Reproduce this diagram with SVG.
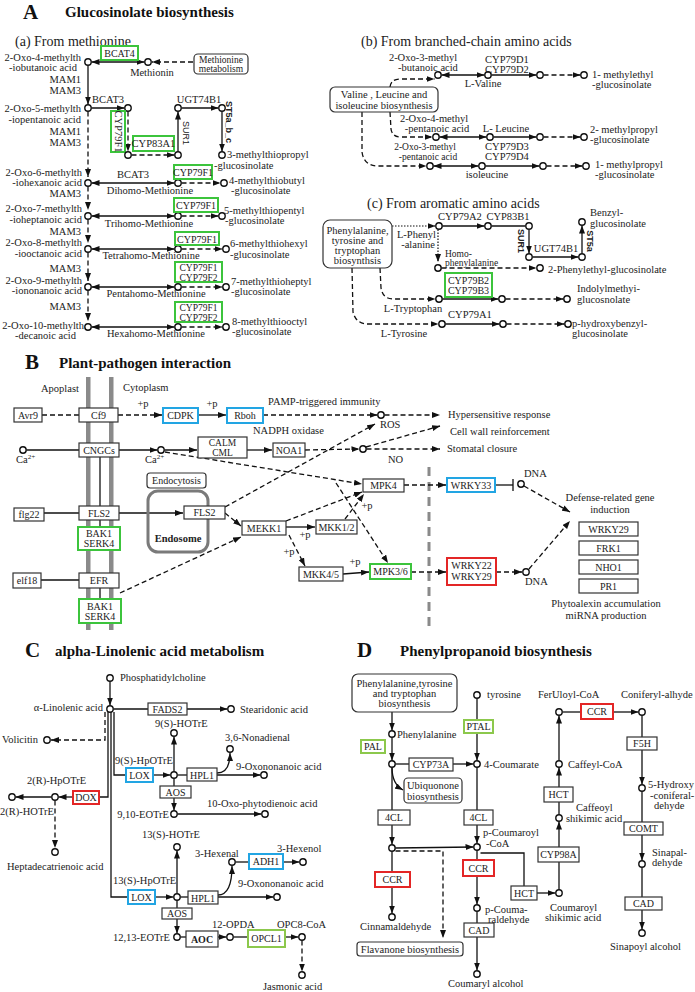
<svg xmlns="http://www.w3.org/2000/svg" width="695" height="992" viewBox="0 0 695 992">
<defs>
<style>
text{font-family:"Liberation Serif","Times New Roman",serif;font-size:10.5px;fill:#222}
.m{text-anchor:middle}.e{text-anchor:end}
.L{font-size:21px;font-weight:bold;fill:#111}
.h{font-size:15px;font-weight:bold;fill:#111}
.sub{font-size:14px}
.bt{font-size:10px}
.sm{font-size:9.5px}
.bx{fill:#fff;stroke:#333;stroke-width:1.2}
.rb{fill:#fff;stroke:#333;stroke-width:1.2}
.gr{fill:#fff;stroke:#3cc43c;stroke-width:2}
.bl{fill:#fff;stroke:#22a5e3;stroke-width:2}
.rd{fill:#fff;stroke:#e32626;stroke-width:2}
.yg{fill:#fff;stroke:#8cc84c;stroke-width:2}
.c{fill:#fff;stroke:#111;stroke-width:1.4}
.s{stroke:#111;stroke-width:1.3;fill:none}
.d{stroke:#111;stroke-width:1.3;fill:none;stroke-dasharray:5 3}
.o{stroke:#111;stroke-width:1.2;fill:none;stroke-dasharray:1.5 1.5}
.ar{marker-end:url(#a)}
.aa{marker-start:url(#a);marker-end:url(#a)}
.mem{fill:#8a8a8a}
.gd{stroke:#8a8a8a;stroke-width:3;stroke-dasharray:9 6;fill:none}
.sans{font-family:"Liberation Sans",Arial,sans-serif;font-weight:bold;font-size:9px}
.sansr{font-family:"Liberation Sans",Arial,sans-serif;font-size:9px}
</style>
<marker id="a" viewBox="0 0 8 6" refX="8" refY="3" markerWidth="8" markerHeight="6" markerUnits="userSpaceOnUse" orient="auto-start-reverse"><path d="M0,0L8,3L0,6z" fill="#111"/></marker>
</defs>
<rect width="695" height="992" fill="#fff"/>

<rect class="mem" x="86" y="377" width="4.5" height="253"/>
<rect class="mem" x="109" y="377" width="4.5" height="253"/>
<line class="gd" x1="429" y1="467" x2="429" y2="626"/>

<g id="connectors">
<line class="s aa" x1="91.5" y1="62" x2="144.5" y2="62"/>
<line class="d ar" x1="193" y1="62" x2="152" y2="62"/>
<line class="s ar" x1="88" y1="65.5" x2="88" y2="104.5"/>
<line class="s ar" x1="91.5" y1="108" x2="124.5" y2="108"/>
<line class="d ar" x1="128" y1="111.5" x2="128" y2="151.5"/>
<line class="d ar" x1="131.5" y1="155" x2="174.5" y2="155"/>
<line class="s ar" x1="178" y1="151.5" x2="178" y2="111.5"/>
<line class="s ar" x1="181.5" y1="108" x2="218.5" y2="108"/>
<line class="s ar" x1="222" y1="111.5" x2="222" y2="151.5"/>
<line class="d ar" x1="88" y1="111.5" x2="88" y2="177"/>
<line class="d ar" x1="88" y1="186.5" x2="88" y2="210"/>
<line class="d ar" x1="88" y1="219.5" x2="88" y2="243"/>
<line class="d ar" x1="88" y1="252.5" x2="88" y2="281"/>
<line class="d ar" x1="88" y1="290.5" x2="88" y2="321"/>
<line class="s aa" x1="91.5" y1="183" x2="174.5" y2="183"/>
<line class="d ar" x1="181.5" y1="183" x2="220.5" y2="183"/>
<line class="s aa" x1="91.5" y1="216" x2="174.5" y2="216"/>
<line class="d ar" x1="181.5" y1="216" x2="218.5" y2="216"/>
<line class="s aa" x1="91.5" y1="249" x2="174.5" y2="249"/>
<line class="d ar" x1="181.5" y1="249" x2="222.5" y2="249"/>
<line class="s aa" x1="91.5" y1="287" x2="174.5" y2="287"/>
<line class="d ar" x1="181.5" y1="287" x2="222.5" y2="287"/>
<line class="s aa" x1="91.5" y1="327" x2="174.5" y2="327"/>
<line class="d ar" x1="181.5" y1="327" x2="222.5" y2="327"/>
<path class="d ar" d="M390,87 Q391,79 400,79 L434.5,79"/>
<line class="s aa" x1="441.5" y1="75" x2="484.5" y2="75"/>
<line class="s ar" x1="491.5" y1="75" x2="536.5" y2="75"/>
<line class="d ar" x1="543.5" y1="75" x2="580.5" y2="75"/>
<path class="d ar" d="M390,112 L391,129 Q392,137 401,137 L432.5,137"/>
<line class="s aa" x1="439.5" y1="137" x2="486.5" y2="137"/>
<line class="s ar" x1="493.5" y1="137" x2="536.5" y2="137"/>
<line class="d ar" x1="543.5" y1="137" x2="580.5" y2="137"/>
<path class="d ar" d="M362,112 L362,152 Q364,166 378,166 L426.5,166"/>
<line class="s aa" x1="433.5" y1="166" x2="478.5" y2="166"/>
<line class="s ar" x1="485.5" y1="166" x2="539.5" y2="166"/>
<line class="d ar" x1="546.5" y1="166" x2="582.5" y2="166"/>
<line class="o ar" x1="392" y1="226" x2="435.5" y2="226"/>
<line class="s ar" x1="442.5" y1="226" x2="484.5" y2="226"/>
<line class="s" x1="491.5" y1="226" x2="525.5" y2="226"/>
<line class="s ar" x1="529" y1="229.5" x2="529" y2="253.5"/>
<line class="s ar" x1="532.5" y1="257" x2="578.5" y2="257"/>
<line class="s ar" x1="582" y1="253.5" x2="582" y2="225.5"/>
<line class="o ar" x1="438" y1="229.5" x2="438" y2="262"/>
<line class="d ar" x1="441.5" y1="268" x2="536.5" y2="268"/>
<path class="d ar" d="M380,268 L381,288 Q383,299 393,299 L435.5,299"/>
<line class="s ar" x1="442.5" y1="299" x2="498.5" y2="299"/>
<line class="d ar" x1="505.5" y1="299" x2="563.5" y2="299"/>
<path class="d ar" d="M352,268 L353,312 Q356,324 368,324 L438.5,324"/>
<line class="s ar" x1="445.5" y1="324" x2="499.5" y2="324"/>
<line class="d ar" x1="506.5" y1="324" x2="564.5" y2="324"/>
<line class="d" x1="42" y1="415" x2="79" y2="415"/>
<line class="d ar" x1="118" y1="415" x2="162" y2="415"/>
<line class="s ar" x1="198" y1="415" x2="226" y2="415"/>
<line class="d ar" x1="263" y1="415" x2="377.5" y2="415"/>
<line class="d ar" x1="384.5" y1="415" x2="440" y2="415"/>
<line class="d ar" x1="225" y1="507" x2="375" y2="424"/>
<line class="d ar" x1="366" y1="447" x2="440" y2="426"/>
<line class="d ar" x1="366.5" y1="449" x2="440" y2="449"/>
<line class="s" x1="26.5" y1="450" x2="79" y2="450"/>
<line class="s ar" x1="119" y1="450" x2="157.5" y2="450"/>
<line class="s ar" x1="164.5" y1="450" x2="197" y2="450"/>
<line class="s ar" x1="247" y1="450" x2="272" y2="450"/>
<line class="d ar" x1="305" y1="450" x2="359.5" y2="449"/>
<line class="d ar" x1="165" y1="452" x2="362" y2="484"/>
<line class="s" x1="100" y1="457" x2="100" y2="506"/>
<line class="s" x1="44" y1="513" x2="79" y2="513"/>
<line class="s" x1="100" y1="520" x2="100" y2="527"/>
<line class="s ar" x1="119" y1="513" x2="183" y2="513"/>
<line class="d ar" x1="225" y1="513" x2="241" y2="526"/>
<line class="d ar" x1="120" y1="593" x2="241" y2="537"/>
<line class="s" x1="41" y1="580" x2="79" y2="580"/>
<line class="s" x1="100" y1="588" x2="100" y2="599"/>
<line class="s ar" x1="286" y1="527" x2="315" y2="527"/>
<line class="d ar" x1="289" y1="535" x2="305" y2="566"/>
<line class="s ar" x1="343" y1="574" x2="369" y2="572"/>
<line class="d ar" x1="286" y1="521" x2="362" y2="492"/>
<line class="d ar" x1="345" y1="519" x2="364" y2="494"/>
<line class="d ar" x1="336" y1="483" x2="388" y2="563"/>
<line class="d ar" x1="411" y1="572" x2="446" y2="572"/>
<line class="d ar" x1="496" y1="572" x2="522" y2="572"/>
<line class="d ar" x1="529" y1="569" x2="570" y2="521"/>
<line class="d ar" x1="404" y1="485" x2="446" y2="485"/>
<line class="s" x1="495" y1="485" x2="513" y2="485"/>
<line class="s" x1="513" y1="479" x2="513" y2="491" stroke-width="1.8"/>
<line class="d ar" x1="524" y1="486" x2="570" y2="512"/>
<line class="s ar" x1="110" y1="681.5" x2="110" y2="705.5"/>
<line class="s" x1="113.5" y1="709" x2="148" y2="709"/>
<line class="s ar" x1="187" y1="709" x2="227.5" y2="709"/>
<path class="d ar" d="M105,712 V740 H51"/>
<path class="s" d="M108,712 V797 H99"/>
<path class="s" d="M111,712 V897 H128"/>
<path class="s" d="M114,712 V775 H126"/>
<line class="s ar" x1="73" y1="797" x2="58.5" y2="797"/>
<line class="s ar" x1="51.5" y1="797" x2="15.5" y2="797"/>
<line class="d ar" x1="55" y1="800.5" x2="55" y2="848"/>
<line class="s ar" x1="153" y1="775" x2="170.5" y2="775"/>
<line class="s" x1="177.5" y1="775" x2="187" y2="775"/>
<line class="s ar" x1="174" y1="771.5" x2="174" y2="736.5"/>
<line class="s ar" x1="217" y1="775" x2="260.5" y2="775"/>
<path class="s ar" d="M217,773 C226,773 230,766 230,753"/>
<line class="s ar" x1="174" y1="778.5" x2="174" y2="810.5"/>
<line class="s ar" x1="177.5" y1="814" x2="261.5" y2="814"/>
<line class="s ar" x1="155" y1="897" x2="173.5" y2="897"/>
<line class="s" x1="180.5" y1="897" x2="188" y2="897"/>
<line class="s ar" x1="218" y1="897" x2="273.5" y2="897"/>
<path class="s ar" d="M218,895 C227,895 232,885 232,866"/>
<line class="s" x1="235.5" y1="862" x2="249" y2="862"/>
<line class="s ar" x1="283" y1="862" x2="299.5" y2="862"/>
<line class="s ar" x1="177" y1="893.5" x2="177" y2="850.5"/>
<line class="s ar" x1="177" y1="900.5" x2="177" y2="933.5"/>
<line class="s" x1="180.5" y1="937" x2="186" y2="937"/>
<line class="s ar" x1="218" y1="937" x2="226.5" y2="937"/>
<line class="s" x1="233.5" y1="937" x2="248" y2="937"/>
<line class="s ar" x1="285" y1="937" x2="298.5" y2="937"/>
<line class="d ar" x1="302" y1="940.5" x2="302" y2="971.5"/>
<line class="s ar" x1="392" y1="712" x2="392" y2="730.5"/>
<line class="s ar" x1="392" y1="737.5" x2="392" y2="760.5"/>
<line class="s" x1="395.5" y1="764" x2="409" y2="764"/>
<line class="s ar" x1="453" y1="764" x2="473.5" y2="764"/>
<line class="s" x1="477" y1="698.5" x2="477" y2="720"/>
<line class="s ar" x1="477" y1="733" x2="477" y2="760.5"/>
<path class="s ar" d="M392,767.5 Q392,784 403,790"/>
<line class="s ar" x1="392" y1="767.5" x2="392" y2="844.5"/>
<line class="s ar" x1="392" y1="851.5" x2="392" y2="913.5"/>
<line class="s ar" x1="395.5" y1="848" x2="473.5" y2="847"/>
<path class="d ar" d="M395.5,851 H443 V938"/>
<line class="s ar" x1="477" y1="767.5" x2="477" y2="843.5"/>
<line class="s ar" x1="477" y1="850.5" x2="477" y2="904.5"/>
<line class="s" x1="477" y1="911.5" x2="477" y2="923"/>
<line class="s ar" x1="477" y1="937" x2="477" y2="970.5"/>
<path class="s" d="M480.5,853 H524 V886"/>
<line class="s ar" x1="537" y1="893" x2="555.5" y2="893"/>
<line class="s" x1="559" y1="889.5" x2="559" y2="862"/>
<line class="s ar" x1="559" y1="847" x2="559" y2="821.5"/>
<line class="s" x1="559" y1="814.5" x2="559" y2="802"/>
<line class="s ar" x1="559" y1="787" x2="559" y2="767.5"/>
<line class="s ar" x1="559" y1="760.5" x2="559" y2="715.5"/>
<line class="s" x1="562.5" y1="712" x2="581" y2="712"/>
<line class="s ar" x1="613" y1="712" x2="638.5" y2="712"/>
<line class="s" x1="642" y1="715.5" x2="642" y2="737"/>
<line class="s ar" x1="642" y1="750" x2="642" y2="784.5"/>
<line class="s" x1="642" y1="791.5" x2="642" y2="822"/>
<line class="s ar" x1="642" y1="835" x2="642" y2="860.5"/>
<line class="s" x1="642" y1="867.5" x2="642" y2="897"/>
<line class="s ar" x1="642" y1="910" x2="642" y2="929.5"/>
</g>

<g id="titleA"><text class="L" x="23" y="19">A</text><text class="h" x="65" y="17">Glucosinolate biosynthesis</text></g>
<g id="subA-a"><text class="sub" x="15" y="46">(a) From methionine</text></g>

<g id="oxo4"><circle class="c" cx="88" cy="62" r="3.2"/><text class="e" x="81" y="61">2-Oxo-4-methylth</text><text class="e" x="77" y="71">-iobutanoic acid</text></g>
<g id="BCAT4"><rect class="gr" x="101" y="46" width="37" height="14"/><text class="m bt" x="119.5" y="57">BCAT4</text></g>
<g id="methionin"><circle class="c" cx="148" cy="62" r="3.2"/><text class="m" x="152" y="76">Methionin</text></g>
<g id="met-metab"><rect class="rb" x="194" y="54" width="54" height="20" rx="4"/><text class="m sm" x="221" y="62.5">Methionine</text><text class="m sm" x="221" y="71.5">metabolism</text></g>
<g id="mam12"><text class="e" x="81" y="83">MAM1</text><text class="e" x="81" y="94">MAM3</text></g>
<g id="oxo5"><circle class="c" cx="88" cy="108" r="3.2"/><text class="e" x="81" y="112">2-Oxo-5-methylth</text><text class="e" x="81" y="123">-iopentanoic acid</text></g>
<g id="bcat3-1"><text class="m" x="108" y="103">BCAT3</text></g>
<g id="c2a"><circle class="c" cx="128" cy="108" r="3.2"/></g>
<g id="CYP79F1v"><rect class="gr" x="111" y="111" width="14" height="41"/><text class="m" font-size="9.5" transform="rotate(90 118 131.5)" x="118" y="135">CYP79F1</text></g>
<g id="c2b"><circle class="c" cx="128" cy="155" r="3.2"/></g>
<g id="CYP83A1"><rect class="gr" x="133" y="136" width="41" height="15"/><text class="m" font-size="9.5" x="153.5" y="147">CYP83A1</text></g>
<g id="c2c"><circle class="c" cx="178" cy="155" r="3.2"/></g>
<g id="sur1a"><text class="m sansr" transform="rotate(90 186 133)" x="186" y="136">SUR1</text></g>
<g id="c2d"><circle class="c" cx="178" cy="108" r="3.2"/></g>
<g id="ugt1"><text class="m" x="199" y="103">UGT74B1</text></g>
<g id="c2e"><circle class="c" cx="222" cy="108" r="3.2"/></g>
<g id="st5abc"><text class="m sans" transform="rotate(90 229 122)" x="229" y="125">ST5a_b_c</text></g>
<g id="mtp"><circle class="c" cx="222" cy="155" r="3.2"/><text x="227" y="158">3-methylthiopropyl</text><text x="214" y="169">-glucosinolate</text></g>
<g id="mam23"><text class="e" x="81" y="135">MAM1</text><text class="e" x="81" y="146">MAM3</text></g>

<g id="oxo6"><circle class="c" cx="88" cy="183" r="3.2"/><text class="e" x="82" y="176">2-Oxo-6-methylth</text><text class="e" x="82" y="186">-iohexanoic acid</text></g>
<g id="bcat3-2"><text class="m" x="133" y="178">BCAT3</text></g>
<g id="dihomo"><circle class="c" cx="178" cy="183" r="3.2"/><text class="m" x="150" y="194">Dihomo-Methionine</text></g>
<g id="CYP79F1-3"><rect class="gr" x="174" y="165" width="38" height="14"/><text class="m bt" x="193" y="176">CYP79F1</text></g>
<g id="mtb"><circle class="c" cx="224" cy="183" r="3.2"/><text x="229" y="184">4-methylthiobutyl</text><text x="231" y="194">-glucosinolate</text></g>
<g id="mam34"><text class="e" x="81" y="197">MAM3</text></g>

<g id="oxo7"><circle class="c" cx="88" cy="216" r="3.2"/><text class="e" x="82" y="212">2-Oxo-7-methylth</text><text class="e" x="82" y="223">-ioheptanoic acid</text></g>
<g id="trihomo"><circle class="c" cx="178" cy="216" r="3.2"/><text class="m" x="149" y="227">Trihomo-Methionine</text></g>
<g id="CYP79F1-4"><rect class="gr" x="174" y="198" width="44" height="14"/><text class="m bt" x="196" y="209">CYP79F1</text></g>
<g id="mtpe"><circle class="c" cx="222" cy="216" r="3.2"/><text x="224" y="214">5-methylthiopentyl</text><text x="225" y="224">-glucosinolate</text></g>
<g id="mam45"><text class="e" x="81" y="235">MAM3</text></g>

<g id="oxo8"><circle class="c" cx="88" cy="249" r="3.2"/><text class="e" x="82" y="246">2-Oxo-8-methylth</text><text class="e" x="82" y="257">-iooctanoic acid</text></g>
<g id="tetrahomo"><circle class="c" cx="178" cy="249" r="3.2"/><text class="m" x="151" y="259">Tetrahomo-Methionine</text></g>
<g id="CYP79F1-5"><rect class="gr" x="175" y="232" width="44" height="13"/><text class="m bt" x="197" y="242.5">CYP79F1</text></g>
<g id="mthx"><circle class="c" cx="226" cy="249" r="3.2"/><text x="230" y="247">6-methylthiohexyl</text><text x="230" y="258">-glucosinolate</text></g>
<g id="mam56"><text class="e" x="81" y="272">MAM3</text></g>

<g id="oxo9"><circle class="c" cx="88" cy="287" r="3.2"/><text class="e" x="82" y="284">2-Oxo-9-methylth</text><text class="e" x="82" y="294">-iononanoic acid</text></g>
<g id="pentahomo"><circle class="c" cx="178" cy="287" r="3.2"/><text class="m" x="156" y="297">Pentahomo-Methionine</text></g>
<g id="CYP79F12-6"><rect class="gr" x="175" y="262" width="47" height="20"/><text class="m sm" x="198.5" y="271">CYP79F1</text><text class="m sm" x="198.5" y="280.5">CYP79F2</text></g>
<g id="mthp"><circle class="c" cx="226" cy="287" r="3.2"/><text x="231" y="285">7-methylthioheptyl</text><text x="231" y="295">-glucosinolate</text></g>
<g id="mam67"><text class="e" x="81" y="310">MAM3</text></g>

<g id="oxo10"><circle class="c" cx="88" cy="327" r="3.2"/><text class="e" x="84" y="329">2-Oxo-10-methylth</text><text class="e" x="76" y="339">-decanoic acid</text></g>
<g id="hexahomo"><circle class="c" cx="178" cy="327" r="3.2"/><text class="m" x="156" y="337">Hexahomo-Methionine</text></g>
<g id="CYP79F12-7"><rect class="gr" x="175" y="302" width="47" height="20"/><text class="m sm" x="198.5" y="311">CYP79F1</text><text class="m sm" x="198.5" y="320.5">CYP79F2</text></g>
<g id="mto"><circle class="c" cx="226" cy="327" r="3.2"/><text x="232" y="325">8-methylthiooctyl</text><text x="232" y="335">-glucosinolate</text></g>

<g id="subA-b"><text class="sub" x="361" y="46">(b) From branched-chain amino acids</text></g>
<g id="oxo3mb"><circle class="c" cx="438" cy="75" r="3.2"/><text class="m" x="423" y="61">2-Oxo-3-methyl</text><text class="m" x="428" y="71">-butanoic acid</text></g>
<g id="valine"><circle class="c" cx="488" cy="75" r="3.2"/><text class="m" x="483" y="87">L-Valine</text><text class="m" x="507" y="63">CYP79D1</text><text class="m" x="507" y="73">CYP79D2</text></g>
<g id="v2"><circle class="c" cx="540" cy="75" r="3.2"/></g>
<g id="me-gls"><circle class="c" cx="584" cy="75" r="3.2"/><text x="592" y="78">1- methylethyl</text><text x="592" y="88">-glucosinolate</text></g>
<g id="vli-box"><rect class="rb" x="330" y="87" width="108" height="25" rx="5"/><text class="m" x="384" y="98">Valine , Leucine and</text><text class="m" x="384" y="109">isoleucine biosynthesis</text></g>
<g id="oxo4mp"><circle class="c" cx="436" cy="137" r="3.2"/><text class="m" x="434" y="122">2-Oxo-4-methyl</text><text class="m" x="437" y="132">-pentanoic acid</text></g>
<g id="leucine"><circle class="c" cx="490" cy="137" r="3.2"/><text class="m" x="506" y="132">L- Leucine</text></g>
<g id="l2"><circle class="c" cx="540" cy="137" r="3.2"/></g>
<g id="mp-gls"><circle class="c" cx="584" cy="137" r="3.2"/><text x="590" y="133">2- methylpropyl</text><text x="590" y="143">-glucosinolate</text></g>
<g id="oxo3mp"><circle class="c" cx="430" cy="166" r="3.2"/><text class="m sm" x="425" y="150">2-Oxo-3-methyl</text><text class="m sm" x="428" y="160">-pentanoic acid</text></g>
<g id="isoleucine"><circle class="c" cx="482" cy="166" r="3.2"/><text class="m" x="487" y="178">isoleucine</text><text class="m" x="507" y="150">CYP79D3</text><text class="m" x="507" y="160">CYP79D4</text></g>
<g id="i2"><circle class="c" cx="543" cy="166" r="3.2"/></g>
<g id="mpr-gls"><circle class="c" cx="586" cy="166" r="3.2"/><text x="595" y="168">1- methylpropyl</text><text x="595" y="178">-glucosinolate</text></g>

<g id="subA-c"><text class="sub" x="367" y="208">(c) From aromatic amino acids</text></g>
<g id="pty-box"><rect class="rb" x="323" y="220" width="69" height="48" rx="7"/><text class="m" x="357.5" y="234">Phenylalanine,</text><text class="m" x="357.5" y="244">tyrosine and</text><text class="m" x="357.5" y="254">tryptophan</text><text class="m" x="357.5" y="264">biosynthsis</text></g>
<g id="lphe"><circle class="c" cx="439" cy="226" r="3.2"/><text class="e" x="436" y="238">L-Phenyl</text><text class="e" x="435" y="248">-alanine</text></g>
<g id="cyp79a2"><text class="m" x="460" y="220">CYP79A2</text></g>
<g id="ph2"><circle class="c" cx="488" cy="226" r="3.2"/><text class="m" x="508" y="220">CYP83B1</text></g>
<g id="ph3"><circle class="c" cx="529" cy="226" r="3.2"/><text class="m sans" transform="rotate(90 521 241)" x="521" y="244">SUR1</text></g>
<g id="ph4"><circle class="c" cx="529" cy="257" r="3.2"/><text class="m" x="556" y="252">UGT74B1</text></g>
<g id="ph5"><circle class="c" cx="582" cy="257" r="3.2"/><text class="m sans" transform="rotate(90 590 241)" x="590" y="244">ST5a</text></g>
<g id="benzyl"><circle class="c" cx="582" cy="222" r="3.2"/><text x="590" y="216">Benzyl-</text><text x="590" y="227">glucosinolate</text></g>
<g id="homophe"><circle class="c" cx="438" cy="268" r="3.2"/><text class="sm" x="445" y="256.5">Homo-</text><text class="sm" x="445" y="266">phenylalanine</text></g>
<g id="phet-gls"><circle class="c" cx="540" cy="268" r="3.2"/><text x="548" y="273">2-Phenylethyl-glucosinolate</text></g>
<g id="CYP79B23"><rect class="gr" x="445" y="273" width="47" height="24"/><text class="m bt" x="468.5" y="284">CYP79B2</text><text class="m bt" x="468.5" y="294">CYP79B3</text></g>
<g id="ltrp"><circle class="c" cx="439" cy="299" r="3.2"/><text class="m" x="413" y="312">L-Tryptophan</text></g>
<g id="t2"><circle class="c" cx="502" cy="299" r="3.2"/></g>
<g id="indolyl"><circle class="c" cx="567" cy="299" r="3.2"/><text x="577" y="292">Indolylmethyi-</text><text x="577" y="303">glucosnolate</text></g>
<g id="ltyr"><circle class="c" cx="442" cy="324" r="3.2"/><text class="m" x="404" y="337">L-Tyrosine</text><text class="m" x="470" y="318">CYP79A1</text></g>
<g id="y2"><circle class="c" cx="503" cy="324" r="3.2"/></g>
<g id="phb"><circle class="c" cx="568" cy="324" r="3.2"/><text x="572" y="327">p-hydroxybenzyl-</text><text x="572" y="337">glucosinolate</text></g>

<g id="titleB"><text class="L" x="25" y="369">B</text><text class="h" x="59" y="368">Plant-pathogen interaction</text></g>
<g id="apoplast"><text x="41" y="392">Apoplast</text><text x="123" y="391">Cytoplasm</text></g>
<g id="Avr9"><rect class="bx" x="14" y="408" width="28" height="14"/><text class="m bt" x="28" y="419">Avr9</text></g>
<g id="Cf9"><rect class="bx" x="79" y="408" width="39" height="14"/><text class="m bt" x="98.5" y="419">Cf9</text></g>
<g id="p1"><text class="m" x="143" y="407">+p</text><text class="m" x="212" y="407">+p</text></g>
<g id="CDPK"><rect class="bl" x="163" y="408" width="35" height="15"/><text class="m bt" x="180.5" y="419">CDPK</text></g>
<g id="Rboh"><rect class="bl" x="227" y="408" width="36" height="15"/><text class="m bt" x="245" y="419">Rboh</text></g>
<g id="pamp"><text x="268" y="405">PAMP-triggered immunity</text><text x="253" y="434">NADPH oxidase</text></g>
<g id="ROS"><circle class="c" cx="381" cy="415" r="3.2"/><text x="380" y="428">ROS</text></g>
<g id="hr"><text x="448" y="418">Hypersensitive response</text></g>
<g id="cwr"><text x="450" y="435">Cell wall reinforcement</text></g>
<g id="sc"><text x="447" y="452">Stomatal closure</text></g>
<g id="NO"><circle class="c" cx="363" cy="449" r="3.2"/><text x="388" y="463">NO</text></g>
<g id="ca1"><circle class="c" cx="23" cy="450" r="3.2"/><text x="16" y="463">Ca<tspan font-size="7" dy="-4">2+</tspan></text></g>
<g id="CNGCs"><rect class="bx" x="79" y="443" width="40" height="14"/><text class="m bt" x="99" y="454">CNGCs</text></g>
<g id="ca2"><circle class="c" cx="161" cy="450" r="3.2"/><text x="145" y="463">Ca<tspan font-size="7" dy="-4">2+</tspan></text></g>
<g id="CALM"><rect class="bx" x="198" y="437" width="49" height="21"/><text class="m sm" x="222.5" y="446">CALM</text><text class="m sm" x="222.5" y="455.5">CML</text></g>
<g id="NOA1"><rect class="bx" x="273" y="443" width="32" height="14"/><text class="m bt" x="289" y="454">NOA1</text></g>
<g id="endocytosis"><rect class="rb" x="147" y="473" width="59" height="15" rx="3"/><text class="m bt" x="176.5" y="484">Endocytosis</text></g>
<g id="endosome"><rect x="148" y="491" width="60" height="61" rx="10" fill="none" stroke="#7a7a7a" stroke-width="3"/><text class="m" font-weight="bold" font-size="10" x="178" y="542">Endosome</text></g>
<g id="flg22"><rect class="bx" x="14" y="508" width="30" height="13"/><text class="m bt" x="29" y="518">flg22</text></g>
<g id="FLS2"><rect class="bx" x="79" y="506" width="40" height="14"/><text class="m bt" x="99" y="517">FLS2</text></g>
<g id="BAK1a"><rect class="gr" x="78" y="527" width="42" height="23"/><text class="m bt" x="99" y="537">BAK1</text><text class="m bt" x="99" y="547">SERK4</text></g>
<g id="FLS2e"><rect class="bx" x="184" y="506" width="41" height="13"/><text class="m bt" x="204.5" y="516">FLS2</text></g>
<g id="elf18"><rect class="bx" x="13" y="573" width="28" height="15"/><text class="m bt" x="27" y="584">elf18</text></g>
<g id="EFR"><rect class="bx" x="79" y="573" width="40" height="15"/><text class="m bt" x="99" y="584">EFR</text></g>
<g id="BAK1b"><rect class="gr" x="79" y="599" width="42" height="24"/><text class="m bt" x="100" y="610">BAK1</text><text class="m bt" x="100" y="620">SERK4</text></g>
<g id="MEKK1"><rect class="bx" x="242" y="521" width="44" height="14"/><text class="m bt" x="264" y="532">MEKK1</text></g>
<g id="p2"><text class="m" x="305" y="538">+p</text><text class="m" x="289" y="555">+p</text><text class="m" x="367" y="509">+p</text><text class="m" x="355" y="565">+p</text></g>
<g id="MKK12"><rect class="bx" x="316" y="520" width="41" height="14"/><text class="m bt" x="336.5" y="531">MKK1/2</text></g>
<g id="MKK45"><rect class="bx" x="299" y="567" width="44" height="14"/><text class="m bt" x="321" y="578">MKK4/5</text></g>
<g id="MPK4"><rect class="bx" x="363" y="479" width="41" height="13"/><text class="m bt" x="383.5" y="489">MPK4</text></g>
<g id="MPK36"><rect class="gr" x="370" y="564" width="41" height="15"/><text class="m bt" x="390.5" y="575">MPK3/6</text></g>
<g id="WRKY33"><rect class="bl" x="447" y="478" width="48" height="14"/><text class="m bt" x="471" y="489">WRKY33</text></g>
<g id="dna1"><circle class="c" cx="521" cy="484" r="3.2"/><text x="524" y="477">DNA</text></g>
<g id="WRKY2229"><rect class="rd" x="447" y="558" width="49" height="27"/><text class="m bt" x="471.5" y="569">WRKY22</text><text class="m bt" x="471.5" y="580">WRKY29</text></g>
<g id="dna2"><circle class="c" cx="526" cy="572" r="3.2"/><text x="525" y="585">DNA</text></g>
<g id="defense"><text class="m" x="610" y="501">Defense-related gene</text><text class="m" x="610" y="513">induction</text></g>
<g id="WRKY29"><rect class="bx" x="579" y="522" width="59" height="14"/><text class="m bt" x="608.5" y="533">WRKY29</text></g>
<g id="FRK1"><rect class="bx" x="579" y="541" width="59" height="14"/><text class="m bt" x="608.5" y="552">FRK1</text></g>
<g id="NHO1"><rect class="bx" x="579" y="560" width="59" height="14"/><text class="m bt" x="608.5" y="571">NHO1</text></g>
<g id="PR1"><rect class="bx" x="579" y="579" width="59" height="14"/><text class="m bt" x="608.5" y="590">PR1</text></g>
<g id="phyto"><text class="m" x="606" y="607">Phytoalexin accumulation</text><text class="m" x="606" y="619">miRNA production</text></g>

<g id="titleC"><text class="L" x="25" y="657">C</text><text class="h" x="55" y="656">alpha-Linolenic acid metabolism</text></g>
<g id="pc"><circle class="c" cx="110" cy="678" r="3.2"/><text x="120" y="681">Phosphatidylcholine</text></g>
<g id="ala"><circle class="c" cx="110" cy="709" r="3.2"/><text class="e" x="103" y="711">α-Linolenic acid</text></g>
<g id="FADS2"><rect class="bx" x="148" y="703" width="39" height="12"/><text class="m bt" x="167.5" y="712.5">FADS2</text></g>
<g id="sda"><circle class="c" cx="231" cy="709" r="3.2"/><text x="240" y="713">Stearidonic acid</text></g>
<g id="volicitin"><circle class="c" cx="47" cy="740" r="3.2"/><text x="2" y="743">Volicitin</text></g>
<g id="DOX"><rect class="rd" x="73" y="791" width="26" height="13"/><text class="m bt" x="86" y="801">DOX</text></g>
<g id="hpotre2r"><circle class="c" cx="55" cy="797" r="3.2"/><text x="27" y="784">2(R)-HpOTrE</text></g>
<g id="hotre2r"><circle class="c" cx="12" cy="797" r="3.2"/><text x="0" y="815">2(R)-HOTrE</text></g>
<g id="hepta"><circle class="c" cx="55" cy="852" r="3.2"/><text x="7" y="870">Heptadecatrienoic acid</text></g>
<g id="LOX9"><rect class="bl" x="126" y="768" width="27" height="14"/><text class="m bt" x="139.5" y="779">LOX</text></g>
<g id="hpotre9"><circle class="c" cx="174" cy="775" r="3.2"/><text x="115" y="764">9(S)-HpOTrE</text></g>
<g id="hotre9"><circle class="c" cx="174" cy="733" r="3.2"/><text x="155" y="727">9(S)-HOTrE</text></g>
<g id="HPL1a"><rect class="bx" x="187" y="768" width="30" height="13"/><text class="m bt" x="202" y="778.5">HPL1</text></g>
<g id="nonadienal"><circle class="c" cx="230" cy="749" r="3.2"/><text x="225" y="741">3,6-Nonadienal</text></g>
<g id="oxonon1"><circle class="c" cx="264" cy="775" r="3.2"/><text x="236" y="770">9-Oxononanoic acid</text></g>
<g id="AOSa"><rect class="bx" x="160" y="786" width="31" height="12"/><text class="m bt" x="175.5" y="795.5">AOS</text></g>
<g id="eotre910"><circle class="c" cx="174" cy="814" r="3.2"/><text class="e" x="169" y="818">9,10-EOTrE</text></g>
<g id="opda10"><circle class="c" cx="265" cy="814" r="3.2"/><text x="207" y="807">10-Oxo-phytodienoic acid</text></g>
<g id="LOX13"><rect class="bl" x="128" y="890" width="27" height="14"/><text class="m bt" x="141.5" y="901">LOX</text></g>
<g id="hpotre13"><circle class="c" cx="177" cy="897" r="3.2"/><text x="113" y="884">13(S)-HpOTrE</text></g>
<g id="hotre13"><circle class="c" cx="177" cy="847" r="3.2"/><text x="142" y="838">13(S)-HOTrE</text></g>
<g id="HPL1b"><rect class="bx" x="188" y="891" width="30" height="13"/><text class="m bt" x="203" y="901.5">HPL1</text></g>
<g id="hexenal"><circle class="c" cx="232" cy="862" r="3.2"/><text x="195" y="857">3-Hexenal</text></g>
<g id="ADH1"><rect class="bl" x="249" y="854" width="34" height="15"/><text class="m bt" x="266" y="865">ADH1</text></g>
<g id="hexenol"><circle class="c" cx="303" cy="862" r="3.2"/><text x="277" y="852">3-Hexenol</text></g>
<g id="oxonon2"><circle class="c" cx="277" cy="897" r="3.2"/><text x="238" y="887">9-Oxononanoic acid</text></g>
<g id="AOSb"><rect class="bx" x="162" y="908" width="30" height="11"/><text class="m bt" x="177" y="917">AOS</text></g>
<g id="eotre1213"><circle class="c" cx="177" cy="937" r="3.2"/><text class="e" x="170" y="941">12,13-EOTrE</text></g>
<g id="AOC"><rect class="bx" x="186" y="931" width="32" height="16"/><text class="m bt" font-weight="bold" x="202" y="943">AOC</text></g>
<g id="opda12"><circle class="c" cx="230" cy="937" r="3.2"/><text x="212" y="928">12-OPDA</text></g>
<g id="OPCL1"><rect class="yg" x="248" y="930" width="37" height="17"/><text class="m bt" x="266.5" y="942">OPCL1</text></g>
<g id="opc8"><circle class="c" cx="302" cy="937" r="3.2"/><text x="277" y="928">OPC8-CoA</text></g>
<g id="ja"><circle class="c" cx="302" cy="975" r="3.2"/><text x="263" y="990">Jasmonic acid</text></g>

<g id="titleD"><text class="L" x="357" y="657">D</text><text class="h" x="400" y="656">Phenylpropanoid biosynthesis</text></g>
<g id="ptt-box"><rect class="rb" x="352" y="674" width="105" height="38" rx="6"/><text class="m" x="404.5" y="687">Phenylalanine,tyrosine</text><text class="m" x="404.5" y="697">and tryptophan</text><text class="m" x="404.5" y="707">biosynthesis</text></g>
<g id="phe"><circle class="c" cx="392" cy="734" r="3.2"/><text x="397" y="738">Phenylalanine</text></g>
<g id="PAL"><rect class="yg" x="361" y="740" width="24" height="13"/><text class="m bt" x="373" y="750">PAL</text></g>
<g id="cinn"><circle class="c" cx="392" cy="764" r="3.2"/></g>
<g id="CYP73A"><rect class="bx" x="409" y="758" width="44" height="13"/><text class="m bt" x="431" y="768">CYP73A</text></g>
<g id="tyr"><circle class="c" cx="477" cy="695" r="3.2"/><text x="487" y="698">tyrosine</text></g>
<g id="PTAL"><rect class="yg" x="464" y="720" width="29" height="13"/><text class="m bt" x="478.5" y="730">PTAL</text></g>
<g id="coum"><circle class="c" cx="477" cy="764" r="3.2"/><text x="484" y="768">4-Coumarate</text></g>
<g id="ubiq"><rect class="rb" x="404" y="778" width="58" height="25" rx="4"/><text class="m" x="433" y="789">Ubiquonone</text><text class="m" x="433" y="800">biosynthesis</text></g>
<g id="4CLa"><rect class="bx" x="378" y="810" width="32" height="15"/><text class="m bt" x="394" y="821">4CL</text></g>
<g id="cinncoa"><circle class="c" cx="392" cy="848" r="3.2"/></g>
<g id="CCRa"><rect class="rd" x="375" y="872" width="35" height="15"/><text class="m bt" x="392.5" y="883">CCR</text></g>
<g id="cinnald"><circle class="c" cx="392" cy="917" r="3.2"/><text x="360" y="930">Cinnamaldehyde</text></g>
<g id="flav"><rect class="rb" x="357" y="942" width="106" height="14" rx="3"/><text class="m" x="410" y="953">Flavanone biosynthesis</text></g>
<g id="4CLb"><rect class="bx" x="464" y="810" width="29" height="15"/><text class="m bt" x="478.5" y="821">4CL</text></g>
<g id="pcoa"><circle class="c" cx="477" cy="847" r="3.2"/><text x="483" y="836">p-Coumaroyl</text><text x="486" y="847">-CoA</text></g>
<g id="CCRb"><rect class="rd" x="463" y="860" width="31" height="16"/><text class="m bt" x="478.5" y="872">CCR</text></g>
<g id="pcald"><circle class="c" cx="477" cy="908" r="3.2"/><text x="485" y="913">p-Couma-</text><text x="488" y="923">raldehyde</text></g>
<g id="CADa"><rect class="bx" x="464" y="923" width="30" height="14"/><text class="m bt" x="479" y="934">CAD</text></g>
<g id="cald"><circle class="c" cx="477" cy="974" r="3.2"/><text x="448" y="987">Coumaryl alcohol</text></g>
<g id="HCTa"><rect class="bx" x="511" y="886" width="26" height="14"/><text class="m bt" x="524" y="897">HCT</text></g>
<g id="csa"><circle class="c" cx="559" cy="893" r="3.2"/><text x="550" y="911">Coumaroyl</text><text x="545" y="921">shikimic acid</text></g>
<g id="CYP98A"><rect class="bx" x="538" y="847" width="41" height="15"/><text class="m bt" x="558.5" y="858">CYP98A</text></g>
<g id="cfsa"><circle class="c" cx="559" cy="818" r="3.2"/><text x="576" y="811">Caffeoyl</text><text x="566" y="822">shikimic acid</text></g>
<g id="HCTb"><rect class="bx" x="544" y="787" width="29" height="15"/><text class="m bt" x="558.5" y="798">HCT</text></g>
<g id="cfcoa"><circle class="c" cx="559" cy="764" r="3.2"/><text x="568" y="768">Caffeyl-CoA</text></g>
<g id="fercoa"><circle class="c" cx="559" cy="712" r="3.2"/><text x="538" y="698">FerUloyl-CoA</text></g>
<g id="CCRc"><rect class="rd" x="581" y="704" width="32" height="15"/><text class="m bt" x="597" y="715">CCR</text></g>
<g id="conald"><circle class="c" cx="642" cy="712" r="3.2"/><text x="621" y="698">Coniferyl-alhyde</text></g>
<g id="F5H"><rect class="bx" x="627" y="737" width="30" height="13"/><text class="m bt" x="642" y="747">F5H</text></g>
<g id="hcald"><circle class="c" cx="642" cy="788" r="3.2"/><text x="648" y="788">5-Hydroxy</text><text x="650" y="799">-coniferal-</text><text x="654" y="809">dehyde</text></g>
<g id="COMT"><rect class="bx" x="624" y="822" width="39" height="13"/><text class="m bt" x="643.5" y="832">COMT</text></g>
<g id="sinald"><circle class="c" cx="642" cy="864" r="3.2"/><text x="652" y="856">Sinapal-</text><text x="652" y="866">dehyde</text></g>
<g id="CADb"><rect class="bx" x="625" y="897" width="37" height="13"/><text class="m bt" x="643.5" y="907">CAD</text></g>
<g id="sinalc"><circle class="c" cx="642" cy="933" r="3.2"/><text x="610" y="950">Sinapoyl alcohol</text></g>
</svg>
